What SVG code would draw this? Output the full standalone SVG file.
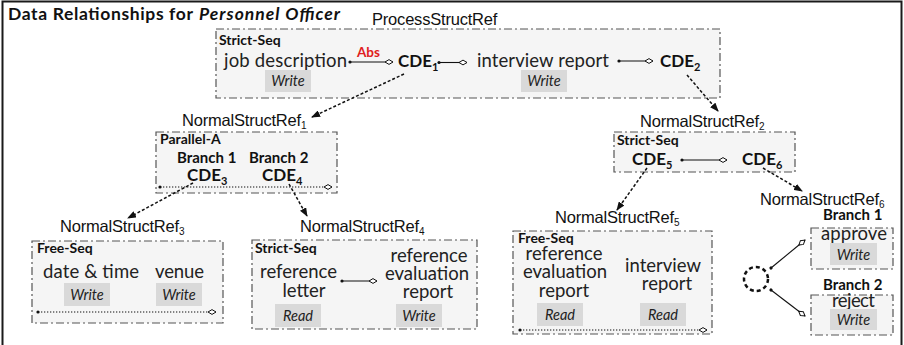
<svg xmlns="http://www.w3.org/2000/svg" width="904" height="345" viewBox="0 0 904 345">
<style>
.frame{fill:none;stroke:#1a1a1a;stroke-width:2}
.box{fill:#f5f5f5;stroke:#555;stroke-width:1.2;stroke-dasharray:8 3 2 3}
.badge{fill:#d9d9d9}
.ref{font-family:"Liberation Sans",Arial,sans-serif;font-size:16.5px;fill:#111;letter-spacing:-0.2px}
.sub{font-size:10px}
.kind{font-family:Lato,"Open Sans",sans-serif;font-weight:bold;font-size:14px;fill:#111}
.br{font-family:Lato,"Open Sans",sans-serif;font-weight:bold;font-size:15px;fill:#111}
.cde{font-family:Lato,"Open Sans",sans-serif;font-weight:bold;font-size:17px;fill:#111}
.cs{font-size:11px}
.el{font-family:Lato,"Open Sans",sans-serif;font-size:18.5px;fill:#222}
.mode{font-family:Lato,"Open Sans",sans-serif;font-style:italic;font-size:14.5px;fill:#222;text-anchor:middle}
.mid{text-anchor:middle}
.conn{fill:none;stroke:#111;stroke-width:1.1;marker-start:url(#dot);marker-end:url(#dia)}
.dotted{fill:none;stroke:#111;stroke-width:1.1;stroke-dasharray:1.3 1.7;marker-start:url(#dot);marker-end:url(#dia)}
.arr{fill:none;stroke:#111;stroke-width:1.5;stroke-dasharray:3 2;marker-end:url(#ah)}
</style>
<defs>
<marker id="dot" markerUnits="userSpaceOnUse" viewBox="-3 -3 6 6" markerWidth="6" markerHeight="6" refX="0" refY="0" orient="auto"><circle cx="0" cy="0" r="1.6" fill="#111"/></marker>
<marker id="dia" markerUnits="userSpaceOnUse" viewBox="-1 -4 10 8" markerWidth="10" markerHeight="8" refX="8" refY="0" orient="auto"><path d="M0,0 L4,-2.4 L8,0 L4,2.4 Z" fill="#fff" stroke="#111" stroke-width="1"/></marker>
<marker id="ah" markerUnits="userSpaceOnUse" viewBox="0 0 9 7" markerWidth="9" markerHeight="7" refX="8" refY="3.5" orient="auto"><path d="M0,0 L9,3.5 L0,7 Z" fill="#111"/></marker>
</defs>
<rect class="frame" x="2.5" y="1.5" width="899" height="360"/>
<text x="8" y="20" font-family="Lato,'Open Sans',sans-serif" font-weight="bold" font-size="17.5" fill="#111" textLength="185">Data Relationships for</text>
<text x="199" y="20" font-family="Lato,'Open Sans',sans-serif" font-weight="bold" font-style="italic" font-size="17.5" fill="#111" textLength="141">Personnel Officer</text>

<g id="process">
<text class="ref" x="372" y="25">ProcessStructRef</text>
<rect class="box" x="216" y="29" width="504" height="69"/>
<text class="kind" x="219" y="45">Strict-Seq</text>
<text class="el" x="224" y="67" textLength="123">job description</text>
<rect class="badge" x="265" y="70" width="46" height="22"/>
<text class="mode" x="288" y="86">Write</text>
<text x="357" y="57" font-family="Lato,'Open Sans',sans-serif" font-weight="bold" font-size="13.5" fill="#e02020">Abs</text>
<text class="cde" x="398" y="67">CDE<tspan class="cs" dy="4">1</tspan></text>
<text class="el" x="477" y="67" textLength="132">interview report</text>
<rect class="badge" x="521" y="70" width="46" height="22"/>
<text class="mode" x="544" y="86">Write</text>
<text class="cde" x="660" y="67">CDE<tspan class="cs" dy="4">2</tspan></text>
</g>

<g id="nsr1">
<text class="ref" x="182" y="126">NormalStructRef<tspan class="sub" dy="2.5">1</tspan></text>
<rect class="box" x="156" y="132" width="181" height="61"/>
<text class="kind" x="160" y="144">Parallel-A</text>
<text class="br" x="177" y="163">Branch 1</text>
<text class="br" x="249" y="163">Branch 2</text>
<text class="cde" x="187" y="181">CDE<tspan class="cs" dy="4">3</tspan></text>
<text class="cde" x="262" y="181">CDE<tspan class="cs" dy="4">4</tspan></text>
</g>

<g id="nsr2">
<text class="ref" x="640" y="127">NormalStructRef<tspan class="sub" dy="2.5">2</tspan></text>
<rect class="box" x="614" y="132" width="181" height="40"/>
<text class="kind" x="617" y="145">Strict-Seq</text>
<text class="cde" x="632" y="165">CDE<tspan class="cs" dy="4">5</tspan></text>
<text class="cde" x="742" y="165">CDE<tspan class="cs" dy="4">6</tspan></text>
</g>

<g id="nsr3">
<text class="ref" x="60" y="232">NormalStructRef<tspan class="sub" dy="2.5">3</tspan></text>
<rect class="box" x="32" y="241" width="191" height="82"/>
<text class="kind" x="37" y="253">Free-Seq</text>
<text class="el" x="43" y="278" textLength="96">date &amp; time</text>
<text class="el" x="155" y="278" textLength="49">venue</text>
<rect class="badge" x="64" y="283" width="46" height="23"/>
<text class="mode" x="87" y="300">Write</text>
<rect class="badge" x="156" y="283" width="46" height="23"/>
<text class="mode" x="179" y="300">Write</text>
</g>

<g id="nsr4">
<text class="ref" x="300" y="232">NormalStructRef<tspan class="sub" dy="2.5">4</tspan></text>
<rect class="box" x="252" y="240" width="225" height="89"/>
<text class="kind" x="255" y="253">Strict-Seq</text>
<text class="el mid" x="298.5" y="278">reference</text>
<text class="el mid" x="304" y="297">letter</text>
<text class="el mid" x="429" y="262">reference</text>
<text class="el mid" x="427" y="280">evaluation</text>
<text class="el mid" x="428" y="298">report</text>
<rect class="badge" x="275" y="304" width="46" height="23"/>
<text class="mode" x="298" y="321">Read</text>
<rect class="badge" x="396" y="304" width="46" height="23"/>
<text class="mode" x="419" y="321">Write</text>
</g>

<g id="nsr5">
<text class="ref" x="555" y="223">NormalStructRef<tspan class="sub" dy="2.5">5</tspan></text>
<rect class="box" x="513" y="231" width="199" height="103"/>
<text class="kind" x="518" y="243">Free-Seq</text>
<text class="el mid" x="564" y="260">reference</text>
<text class="el mid" x="565" y="278">evaluation</text>
<text class="el mid" x="564" y="297">report</text>
<text class="el mid" x="663" y="272">interview</text>
<text class="el mid" x="667" y="290">report</text>
<rect class="badge" x="537" y="303" width="46" height="23"/>
<text class="mode" x="560" y="320">Read</text>
<rect class="badge" x="640" y="303" width="46" height="23"/>
<text class="mode" x="663" y="320">Read</text>
</g>

<g id="nsr6">
<text class="ref" x="760" y="205">NormalStructRef<tspan class="sub" dy="2.5">6</tspan></text>
<circle cx="756" cy="279" r="12" fill="none" stroke="#111" stroke-width="2.5" stroke-dasharray="4 3"/>
<text class="br" x="823" y="220">Branch 1</text>
<rect class="box" x="811" y="228" width="82" height="41"/>
<text class="el" x="821" y="240" textLength="66">approve</text>
<rect class="badge" x="830" y="243" width="47" height="22"/>
<text class="mode" x="853.5" y="260">Write</text>
<text class="br" x="823" y="290">Branch 2</text>
<rect class="box" x="811" y="295" width="82" height="40"/>
<text class="el" x="832" y="307" textLength="43">reject</text>
<rect class="badge" x="830" y="309" width="47" height="21"/>
<text class="mode" x="853.5" y="325">Write</text>
</g>

<g id="connectors">
<path class="conn" d="M350,62 L393,62"/>
<path class="conn" d="M439,62.5 L467,62.5"/>
<path class="conn" d="M619,61 L653,61"/>
<path class="conn" d="M682,160 L727,160"/>
<path class="conn" d="M342,281 L377,281"/>
<path class="dotted" d="M160,187 L332,187"/>
<path class="dotted" d="M38,312 L216,312"/>
<path class="dotted" d="M520,330 L707,330"/>
<path class="conn" d="M771,268 L805,240"/>
<path class="conn" d="M771,290 L805,316"/>
<path class="arr" d="M404,74 L312,117"/>
<path class="arr" d="M687,75 L718,111"/>
<path class="arr" d="M193,183 L128,218"/>
<path class="arr" d="M289,184 L307,216"/>
<path class="arr" d="M647,168 L617,210"/>
<path class="arr" d="M763,168 L802,191"/>
</g>
</svg>
